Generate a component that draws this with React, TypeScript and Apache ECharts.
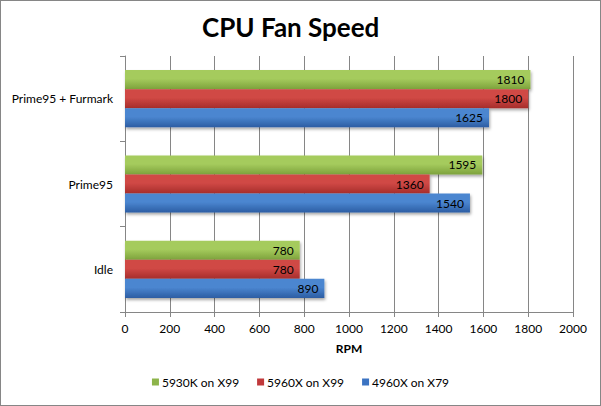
import * as echarts from 'echarts';
import React, { useEffect, useRef } from 'react';

const categories = ['Idle', 'Prime95', 'Prime95 + Furmark'];
const seriesNames = ['5930K on X99', '5960X on X99', '4960X on X79'];
const green5930K = [780, 1595, 1810];
const red5960X = [780, 1360, 1800];
const blue4960X = [890, 1540, 1625];
const xTicks = [0, 200, 400, 600, 800, 1000, 1200, 1400, 1600, 1800, 2000];

const grad = (top: string, bottom: string) =>
  new echarts.graphic.LinearGradient(0, 0, 0, 1, [
    { offset: 0, color: top },
    { offset: 0.45, color: top },
    { offset: 1, color: bottom },
  ]);

const App: React.FC = () => {
  const chartRef = useRef<HTMLDivElement>(null);

  useEffect(() => {
    document.body.style.margin = '0';
    if (!chartRef.current) return;
    const chart = echarts.init(chartRef.current, undefined, { renderer: 'svg' });

    const font = 'Lato, "Open Sans", sans-serif';
    const bar = (name: string, data: number[], top: string, bottom: string, legendColor: string) => ({
      name,
      type: 'bar' as const,
      data,
      barCategoryGap: '33%',
      barGap: '0%',
      color: legendColor,
      itemStyle: {
        color: grad(top, bottom),
        shadowColor: 'rgba(0,0,0,0.35)',
        shadowBlur: 3,
        shadowOffsetX: 1,
        shadowOffsetY: 2,
      },
      label: {
        show: true,
        position: 'insideRight' as const,
        color: '#000',
        fontSize: 12,
        fontFamily: font,
        distance: 6,
      },
    });

    chart.setOption({
      animation: false,
      backgroundColor: '#fff',
      title: {
        text: 'CPU Fan Speed',
        left: 196,
        top: 8,
        textStyle: { fontSize: 26, fontWeight: 'bold', color: '#000', fontFamily: font },
      },
      legend: {
        data: seriesNames.map((n, i) => ({
          name: n,
          itemStyle: { color: ['#8db44a', '#c0393b', '#3b73c2'][i] },
        })),
        bottom: 12,
        left: 'center',
        itemWidth: 7,
        itemHeight: 7,
        itemGap: 18,
        icon: 'rect',
        textStyle: { fontSize: 12, color: '#000', fontFamily: font, padding: [0, 0, 0, -2] },
      },
      grid: { left: 124, top: 55, width: 448, height: 256 },
      xAxis: {
        type: 'value',
        min: xTicks[0],
        max: xTicks[xTicks.length - 1],
        interval: 200,
        name: 'RPM',
        nameLocation: 'middle',
        nameGap: 30,
        nameTextStyle: { fontSize: 12, fontWeight: 'bold', color: '#000', fontFamily: font },
        axisLine: { show: true, lineStyle: { color: '#868686' } },
        axisTick: { show: true, length: 5, lineStyle: { color: '#868686' } },
        axisLabel: {
          fontSize: 12,
          color: '#000',
          fontFamily: font,
          margin: 10,
          formatter: (v: number) => String(v),
        },
        splitLine: { show: true, lineStyle: { color: '#868686' } },
      },
      yAxis: {
        type: 'category',
        data: categories,
        axisLine: { show: true, lineStyle: { color: '#868686' } },
        axisTick: { show: true, length: 5, lineStyle: { color: '#868686' } },
        axisLabel: { fontSize: 12, color: '#000', fontFamily: font, margin: 12 },
        splitLine: { show: false },
      },
      series: [
        bar(seriesNames[0], green5930K, '#a5cb5d', '#7da23c', '#8db44a'),
        bar(seriesNames[1], red5960X, '#d04845', '#a62d2b', '#c0393b'),
        bar(seriesNames[2], blue4960X, '#4b86d0', '#2c5da3', '#3b73c2'),
      ],
    });

    return () => chart.dispose();
  }, []);

  return (
    <div
      style={{
        width: 601,
        height: 406,
        boxSizing: 'border-box',
        border: '1px solid #868686',
        background: '#fff',
      }}
    >
      <div ref={chartRef} style={{ width: 599, height: 404 }} />
    </div>
  );
};

export default App;
